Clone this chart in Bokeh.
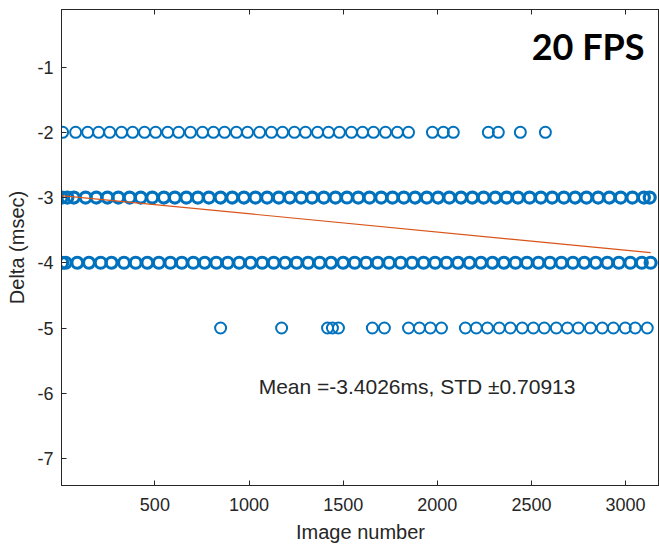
from bokeh.plotting import figure
from bokeh.models import Range1d, FixedTicker, LinearAxis, Label, ColumnDataSource, PrintfTickFormatter
from bokeh.embed import file_html
from bokeh.resources import INLINE

# ---- data ----
x_ticks = [500, 1000, 1500, 2000, 2500, 3000]
y_ticks = [-7, -6, -5, -4, -3, -2, -1]

row_m2_x = [10, 79, 143, 201, 260, 323, 382, 445, 504, 568, 626, 689, 753, 811, 870,
            933, 992, 1056, 1119, 1178, 1241, 1300, 1364, 1422, 1480, 1544, 1603, 1661,
            1725, 1788, 1847, 1974, 2032, 2085, 2271, 2324, 2441, 2574]
row_m3_x = [5, 35, 70, 132, 189, 248, 306, 366, 425, 486, 548, 606, 667, 728, 787, 849,
            911, 973, 1034, 1096, 1158, 1217, 1277, 1335, 1397, 1459, 1520, 1580, 1640,
            1702, 1762, 1822, 1882, 1944, 2004, 2064, 2126, 2186, 2246, 2308, 2368, 2428,
            2490, 2550, 2610, 2672, 2732, 2792, 2854, 2914, 2974, 3036, 3097, 3128]
row_m4_x = [8, 26, 88, 150, 212, 270, 336, 398, 460, 521, 582, 643, 704, 765, 826, 887,
            948, 1009, 1070, 1131, 1192, 1253, 1314, 1375, 1436, 1500, 1561, 1622, 1683,
            1744, 1805, 1866, 1927, 1988, 2049, 2110, 2171, 2232, 2293, 2354, 2415, 2476,
            2537, 2598, 2659, 2720, 2781, 2842, 2903, 2964, 3025, 3086, 3133]
row_m5_x = [849, 1173, 1417, 1443, 1475, 1655, 1719, 1847, 1905, 1963, 2022, 2149, 2207,
            2266, 2329, 2388, 2451, 2510, 2568, 2632, 2691, 2749, 2813, 2876, 2935, 2998,
            3051, 3115]

fit_x = [1, 3133]
fit_y = [-2.97, -3.845]

mean_text = "Mean =-3.4026ms, STD ±0.70913"
title_text = "20 FPS"

# ---- build ----
BLUE = "#0072BD"
AX = "#262626"

p = figure(width=659, height=545, x_range=Range1d(4, 3180), y_range=Range1d(-7.414, -0.118),
           output_backend="svg", toolbar_location=None,
           min_border_left=61, min_border_right=0, min_border_top=9, min_border_bottom=60)
p.background_fill_color = "white"
p.border_fill_color = "white"
p.grid.visible = False
p.outline_line_color = AX
p.outline_line_width = 1

thin = ColumnDataSource(dict(x=row_m2_x + row_m5_x,
                             y=[-2] * len(row_m2_x) + [-5] * len(row_m5_x)))
thick = ColumnDataSource(dict(x=row_m3_x + row_m4_x,
                              y=[-3] * len(row_m3_x) + [-4] * len(row_m4_x)))

p.scatter("x", "y", source=thin, marker="circle", size=11, fill_color=None,
          line_color=BLUE, line_width=2.0)
p.scatter("x", "y", source=thick, marker="circle", size=11, fill_color=None,
          line_color=BLUE, line_width=3.2)

p.line(fit_x, fit_y, line_color="#D95319", line_width=1.2)

for ax in (p.xaxis[0], p.yaxis[0]):
    ax.axis_line_color = AX
    ax.major_tick_line_color = AX
    ax.minor_tick_line_color = None
    ax.major_tick_in = 5
    ax.major_tick_out = 0
    ax.major_label_text_font = "Liberation Sans"
    ax.major_label_text_font_size = "18px"
    ax.major_label_text_color = AX
    ax.axis_label_text_font = "Liberation Sans"
    ax.axis_label_text_font_size = "20px"
    ax.axis_label_text_font_style = "normal"
    ax.axis_label_text_color = AX

p.xaxis[0].ticker = FixedTicker(ticks=x_ticks)
p.yaxis[0].ticker = FixedTicker(ticks=y_ticks)
p.yaxis[0].formatter = PrintfTickFormatter(format="%d")
p.xaxis[0].axis_label = "Image number"
p.yaxis[0].axis_label = "Delta (msec)"
p.xaxis[0].major_label_standoff = 12
p.yaxis[0].major_label_standoff = 8
p.xaxis[0].axis_label_standoff = 7
p.yaxis[0].axis_label_standoff = 6

top = LinearAxis(ticker=FixedTicker(ticks=x_ticks), major_label_text_font_size="1px",
                 major_label_text_color=None, major_label_standoff=0,
                 major_tick_in=5, major_tick_out=0, minor_tick_line_color=None,
                 axis_line_color=AX, major_tick_line_color=AX)
p.add_layout(top, "above")

p.add_layout(Label(x=1051, y=-5.89, text=mean_text, text_font="Liberation Sans",
                   text_font_size="21px", text_color=AX, text_baseline="alphabetic"))
p.add_layout(Label(x=2501, y=-0.683, text=title_text, text_font="Lato",
                   text_font_style="bold", text_font_size="36px", text_color="black",
                   text_baseline="alphabetic"))

open("out.html", "w").write(file_html(p, INLINE))
